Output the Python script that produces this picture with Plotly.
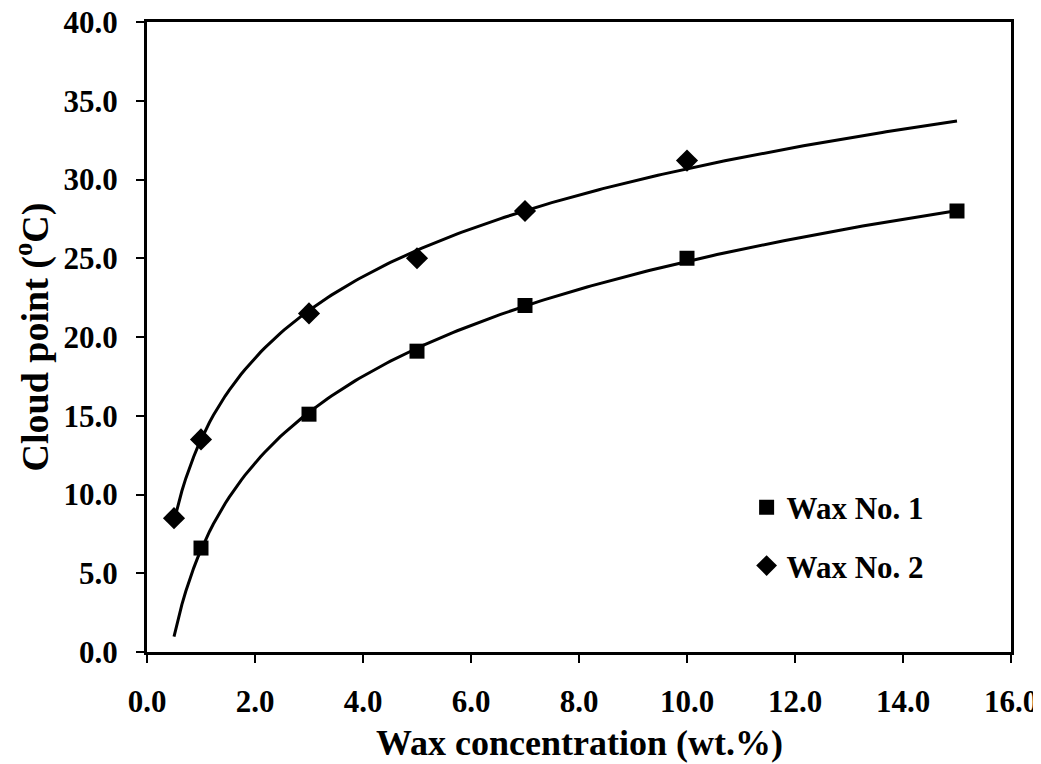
import numpy as np
import plotly.graph_objects as go

# Data
wax1_x = [1, 3, 5, 7, 10, 15]
wax1_y = [6.6, 15.1, 19.1, 22.0, 25.0, 28.0]
wax2_x = [0.5, 1, 3, 5, 7, 10]
wax2_y = [8.5, 13.5, 21.5, 25.0, 28.0, 31.2]
fit_range = [0.5, 15]

x_ticks = [0, 2, 4, 6, 8, 10, 12, 14, 16]
y_ticks = [0, 5, 10, 15, 20, 25, 30, 35, 40]
x_title = "Wax concentration (wt.%)"
y_title = "Cloud point (<sup>o</sup>C)"

# Logarithmic trendlines fitted to the data
def log_fit(xs, ys):
    a, b = np.polyfit(np.log(xs), ys, 1)
    xx = np.linspace(fit_range[0], fit_range[1], 200)
    return xx, a * np.log(xx) + b

f1x, f1y = log_fit(wax1_x, wax1_y)
f2x, f2y = log_fit(wax2_x, wax2_y)

fig = go.Figure()
fig.add_trace(go.Scatter(x=f1x, y=f1y, mode="lines", line=dict(color="black", width=3),
                         showlegend=False, hoverinfo="skip"))
fig.add_trace(go.Scatter(x=f2x, y=f2y, mode="lines", line=dict(color="black", width=3),
                         showlegend=False, hoverinfo="skip"))
fig.add_trace(go.Scatter(x=wax1_x, y=wax1_y, mode="markers", name="Wax No. 1", legendgroup="a",
                         marker=dict(symbol="square", size=15, color="black")))
fig.add_trace(go.Scatter(x=wax2_x, y=wax2_y, mode="markers", name="Wax No. 2", legendgroup="b",
                         marker=dict(symbol="diamond", size=17, color="black")))

font_family = "Liberation Serif, Times New Roman, serif"
fig.update_layout(
    width=1025, height=756,
    margin=dict(l=139, r=22, t=14, b=112),
    paper_bgcolor="white", plot_bgcolor="white",
    font=dict(family=font_family, color="black", size=24),
    legend=dict(x=0.694, y=0.272, xanchor="left", yanchor="top",
                font=dict(size=31, family=font_family, weight="bold"),
                bgcolor="rgba(0,0,0,0)", tracegroupgap=15, itemsizing="trace"),
    xaxis=dict(range=[0, 16], tickvals=x_ticks, ticktext=[f"{v:.1f}" for v in x_ticks],
               showgrid=False, zeroline=False, showline=True, linecolor="black", linewidth=3,
               mirror=True, ticks="outside", ticklen=8, tickwidth=1.5, tickcolor="black",
               tickfont=dict(size=31, family=font_family, weight="bold"),
               ticklabelstandoff=12, automargin=False, ticklabeloverflow="allow"),
    yaxis=dict(range=[0, 40], tickvals=y_ticks, ticktext=[f"{v:.1f}" for v in y_ticks],
               showgrid=False, zeroline=False, showline=True, linecolor="black", linewidth=3,
               mirror=True, ticks="outside", ticklen=8, tickwidth=1.5, tickcolor="black",
               tickfont=dict(size=31, family=font_family, weight="bold"),
               ticklabelstandoff=12, automargin=False, ticklabeloverflow="allow",
               title=dict(text=y_title, standoff=10,
                          font=dict(size=38, family=font_family, weight="bold"))),
    annotations=[dict(text=x_title, xref="paper", yref="paper", x=0.5, y=-0.144,
                      xanchor="center", yanchor="middle", showarrow=False,
                      font=dict(size=36, family=font_family, weight="bold", color="black"))],
)

fig.write_html("out.html")
